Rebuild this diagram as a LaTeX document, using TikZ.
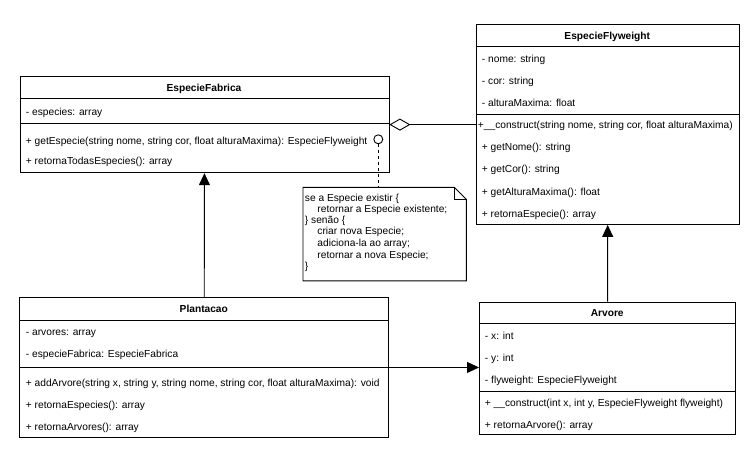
\documentclass[tikz,border=0pt]{standalone}
\usepackage{fontspec}
\setmainfont{Liberation Sans}
\usetikzlibrary{arrows.meta}
\begin{document}
\begin{tikzpicture}[x=1pt,y=-1pt,line width=0.9pt,
  font=\fontsize{10.2}{12}\selectfont,
  classbox/.style={draw,fill=white,inner sep=0pt,anchor=north west},
  rowtxt/.style={anchor=base west,inner sep=0pt},
  titletxt/.style={anchor=base,inner sep=0pt,font=\fontsize{10.2}{12}\selectfont\bfseries},
  notetxt/.style={anchor=base west,inner sep=0pt},
  genarrow/.style={-{Triangle[length=12pt,width=11pt]}},
  aggarrow/.style={-{Diamond[open,length=21pt,width=12pt]}}]
\useasboundingbox (0,0) rectangle (754,448);

% ---------- EspecieFabrica ----------
\node[classbox,minimum width=369pt,minimum height=96.3pt] (ef) at (19.5,76) {};
\draw (19.5,98.5) -- (388.5,98.5);
\draw (19.5,123.8) -- (388.5,123.8);
\node[titletxt] (eft) at (204,91.5) {EspecieFabrica};
\node[rowtxt] (ef1) at (25.5,115) {- especies: array};
\node[rowtxt] (ef2) at (25.5,144.5) {+ getEspecie(string nome, string cor, float alturaMaxima): EspecieFlyweight};
\node[rowtxt] (ef3) at (25.5,164.5) {+ retornaTodasEspecies(): array};
\node[draw,circle,fill=white,minimum size=9pt,inner sep=0pt] (circ) at (378.3,139.3) {};

% ---------- EspecieFlyweight ----------
\node[classbox,minimum width=263.5pt,minimum height=199.7pt] (fly) at (475.5,24.3) {};
\draw (475.5,46.7) -- (739,46.7);
\draw (475.5,114) -- (739,114);
\node[titletxt] (flyt) at (607.25,39) {EspecieFlyweight};
\node[rowtxt] (fly1) at (481.5,62.5) {- nome: string};
\node[rowtxt] (fly2) at (481.5,84.5) {- cor: string};
\node[rowtxt] (fly3) at (481.5,106.5) {- alturaMaxima: float};
\node[rowtxt] (fly4) at (477.5,128.5) {+\_\_construct(string nome, string cor, float alturaMaxima)};
\node[rowtxt] (fly5) at (481.5,150.5) {+ getNome(): string};
\node[rowtxt] (fly6) at (481.5,172.8) {+ getCor(): string};
\node[rowtxt] (fly7) at (481.5,195.2) {+ getAlturaMaxima(): float};
\node[rowtxt] (fly8) at (481.5,217.2) {+ retornaEspecie(): array};

% ---------- Plantacao ----------
\node[classbox,minimum width=369pt,minimum height=139.4pt] (pl) at (19.3,297.3) {};
\draw (19.3,320) -- (388.3,320);
\draw (19.3,367.5) -- (388.3,367.5);
\node[titletxt] (plt) at (203.8,312.5) {Plantacao};
\node[rowtxt] (pl1) at (25.5,335.5) {- arvores: array};
\node[rowtxt] (pl2) at (25.5,357.8) {- especieFabrica: EspecieFabrica};
\node[rowtxt] (pl3) at (25.5,386.8) {+ addArvore(string x, string y, string nome, string cor, float alturaMaxima): void};
\node[rowtxt] (pl4) at (25.5,408.8) {+ retornaEspecies(): array};
\node[rowtxt] (pl5) at (25.5,430.5) {+ retornaArvores(): array};

% ---------- Arvore ----------
\node[classbox,minimum width=256.3pt,minimum height=132.3pt] (ar) at (479,301.7) {};
\draw (479,323.3) -- (735.3,323.3);
\draw (479,391) -- (735.3,391);
\node[titletxt] (art) at (607.2,316.5) {Arvore};
\node[rowtxt] (ar1) at (484.5,339.2) {- x: int};
\node[rowtxt] (ar2) at (484.5,361.2) {- y: int};
\node[rowtxt] (ar3) at (484.5,383.5) {- flyweight: EspecieFlyweight};
\node[rowtxt] (ar4) at (484.5,406.5) {+ \_\_construct(int x, int y, EspecieFlyweight flyweight)};
\node[rowtxt] (ar5) at (484.5,428.5) {+ retornaArvore(): array};

% ---------- Note ----------
\node[inner sep=0pt,minimum width=162.5pt,minimum height=92.7pt,anchor=north west] (note) at (303,187.3) {};
\draw[fill=white] (note.north west) -- ([xshift=-12pt]note.north east)
  -- ([yshift=-12pt]note.north east) -- (note.south east) -- (note.south west) -- cycle;
\draw ([xshift=-12pt]note.north east) -- ([xshift=-12pt,yshift=-12pt]note.north east)
  -- ([yshift=-12pt]note.north east);
\node[notetxt] (n1) at (304.5,201.5) {se a Especie existir \{};
\node[notetxt] (n2) at (317,212.5) {retornar a Especie existente;};
\node[notetxt] (n3) at (304.5,223.2) {\} senão \{};
\node[notetxt] (n4) at (317,234.2) {criar nova Especie;};
\node[notetxt] (n5) at (317,246.8) {adiciona-la ao array;};
\node[notetxt] (n6) at (317,258.2) {retornar a nova Especie;};
\node[notetxt] (n7) at (304.5,269.2) {\}};

% ---------- Connectors ----------
\draw[dash pattern=on 3pt off 3pt] (circ.south) -- (circ.south |- note.north);
\draw[aggarrow] (fly.west |- ef.east) -- (ef.east);
\draw[genarrow] (pl.north) -- (ef.south);
\draw[genarrow] (ar.north) -- (fly.south);
\draw[genarrow] (pl.east) -- (pl.east -| ar.west);
\end{tikzpicture}
\end{document}
